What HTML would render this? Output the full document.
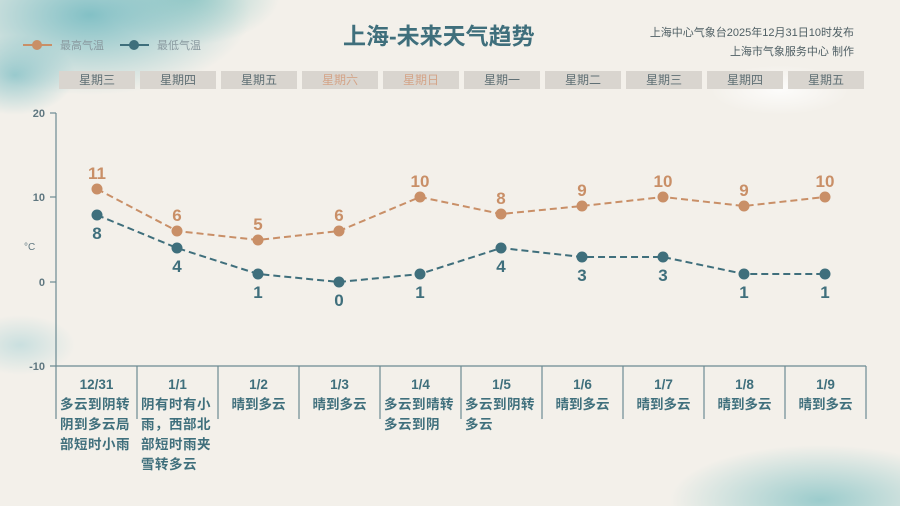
<!DOCTYPE html>
<html style="width:900px;height:506px;overflow:hidden"><head><meta charset="utf-8"><style>
html,body{margin:0;padding:0}
body{width:900px;height:506px;overflow:hidden;font-family:"Liberation Sans","Noto Sans CJK SC",sans-serif;position:relative;
background:
radial-gradient(ellipse 160px 80px at 90px 15px, rgba(111,184,191,.85), rgba(111,184,191,0)),
radial-gradient(ellipse 90px 50px at 190px -5px, rgba(140,198,194,.8), rgba(140,198,194,0)),
radial-gradient(ellipse 60px 40px at 15px 75px, rgba(121,188,195,.7), rgba(121,188,195,0)),
radial-gradient(ellipse 150px 55px at 820px 500px, rgba(134,195,197,.8), rgba(134,195,197,0)),
radial-gradient(ellipse 55px 30px at 20px 345px, rgba(184,216,218,.7), rgba(184,216,218,0)),
radial-gradient(ellipse 70px 25px at 780px 90px, rgba(255,255,255,.8), rgba(255,255,255,0)),
#f3f0ea}
.day{position:absolute;top:71px;width:76px;height:18px;background:#d9d5cf;color:#5f6f74;font-size:12px;text-align:center;line-height:18px}
.col{position:absolute;top:375px;width:81px;text-align:center;color:#3f6f7c;font-weight:bold;font-size:13.5px;line-height:20px}
.col .w{text-align:left;padding-left:4px;letter-spacing:0.5px}
svg{display:block}
</style></head><body>
<div style="position:absolute;left:343px;top:17px;font-size:23px;font-weight:bold;color:#3f6f7c">上海-未来天气趋势</div>
<div style="position:absolute;right:46px;top:24px;font-size:11px;color:#4f5f64;text-align:right;line-height:19px">上海中心气象台2025年12月31日10时发布<br>上海市气象服务中心 制作</div>
<svg style="position:absolute;left:0;top:0" width="900" height="506">
<g font-size="11" fill="#8a9aa0">
<line x1="23" y1="45" x2="52" y2="45" stroke="#c98f67" stroke-width="2"/><circle cx="37" cy="45" r="5" fill="#c98f67"/><text x="60" y="49">最高气温</text>
<line x1="120" y1="45" x2="149" y2="45" stroke="#3f6f7c" stroke-width="2"/><circle cx="134" cy="45" r="5" fill="#3f6f7c"/><text x="157" y="49">最低气温</text>
</g>
<g stroke="#6c8a92" stroke-width="1.2" fill="none">
<line x1="56" y1="113" x2="56" y2="419"/>
<line x1="50" y1="113" x2="56" y2="113"/><line x1="50" y1="197" x2="56" y2="197"/><line x1="50" y1="282" x2="56" y2="282"/>
<line x1="50" y1="366" x2="866" y2="366"/>
<line x1="137" y1="366" x2="137" y2="419"/><line x1="218" y1="366" x2="218" y2="419"/><line x1="299" y1="366" x2="299" y2="419"/><line x1="380" y1="366" x2="380" y2="419"/><line x1="461" y1="366" x2="461" y2="419"/><line x1="542" y1="366" x2="542" y2="419"/><line x1="623" y1="366" x2="623" y2="419"/><line x1="704" y1="366" x2="704" y2="419"/><line x1="785" y1="366" x2="785" y2="419"/><line x1="866" y1="366" x2="866" y2="419"/>
</g>
<g font-size="11" font-weight="bold" fill="#5f7780" text-anchor="end">
<text x="45" y="117">20</text><text x="45" y="201">10</text><text x="45" y="286">0</text><text x="45" y="370">-10</text>
</g>
<text x="24" y="250" font-size="10" fill="#5f7780">°C</text>
<polyline points="97,189 177,231 258,240 339,231 420,197 501,214 582,206 663,197 744,206 825,197" fill="none" stroke="#c98f67" stroke-width="2" stroke-dasharray="7,4"/>
<polyline points="97,215 177,248 258,274 339,282 420,274 501,248 582,257 663,257 744,274 825,274" fill="none" stroke="#3f6f7c" stroke-width="2" stroke-dasharray="7,4"/>
<g fill="#c98f67"><circle cx="97" cy="189" r="5.5"/><circle cx="177" cy="231" r="5.5"/><circle cx="258" cy="240" r="5.5"/><circle cx="339" cy="231" r="5.5"/><circle cx="420" cy="197" r="5.5"/><circle cx="501" cy="214" r="5.5"/><circle cx="582" cy="206" r="5.5"/><circle cx="663" cy="197" r="5.5"/><circle cx="744" cy="206" r="5.5"/><circle cx="825" cy="197" r="5.5"/></g>
<g fill="#3f6f7c"><circle cx="97" cy="215" r="5.5"/><circle cx="177" cy="248" r="5.5"/><circle cx="258" cy="274" r="5.5"/><circle cx="339" cy="282" r="5.5"/><circle cx="420" cy="274" r="5.5"/><circle cx="501" cy="248" r="5.5"/><circle cx="582" cy="257" r="5.5"/><circle cx="663" cy="257" r="5.5"/><circle cx="744" cy="274" r="5.5"/><circle cx="825" cy="274" r="5.5"/></g>
<g font-size="17" font-weight="bold" fill="#c98f67" text-anchor="middle">
<text x="97" y="179">11</text><text x="177" y="221">6</text><text x="258" y="230">5</text><text x="339" y="221">6</text><text x="420" y="187">10</text><text x="501" y="204">8</text><text x="582" y="196">9</text><text x="663" y="187">10</text><text x="744" y="196">9</text><text x="825" y="187">10</text>
</g>
<g font-size="17" font-weight="bold" fill="#3f6f7c" text-anchor="middle">
<text x="97" y="239">8</text><text x="177" y="272">4</text><text x="258" y="298">1</text><text x="339" y="306">0</text><text x="420" y="298">1</text><text x="501" y="272">4</text><text x="582" y="281">3</text><text x="663" y="281">3</text><text x="744" y="298">1</text><text x="825" y="298">1</text>
</g>
</svg>
<div class="day" style="left:59px">星期三</div>
<div class="day" style="left:140px">星期四</div>
<div class="day" style="left:221px">星期五</div>
<div class="day" style="left:302px;color:#d4a488">星期六</div>
<div class="day" style="left:383px;color:#d4a488">星期日</div>
<div class="day" style="left:464px">星期一</div>
<div class="day" style="left:545px">星期二</div>
<div class="day" style="left:626px">星期三</div>
<div class="day" style="left:707px">星期四</div>
<div class="day" style="left:788px">星期五</div>
<div class="col" style="left:56px">12/31<div class="w">多云到阴转阴到多云局部短时小雨</div></div>
<div class="col" style="left:137px">1/1<div class="w">阴有时有小雨，西部北部短时雨夹雪转多云</div></div>
<div class="col" style="left:218px">1/2<div>晴到多云</div></div>
<div class="col" style="left:299px">1/3<div>晴到多云</div></div>
<div class="col" style="left:380px">1/4<div class="w">多云到晴转多云到阴</div></div>
<div class="col" style="left:461px">1/5<div class="w">多云到阴转多云</div></div>
<div class="col" style="left:542px">1/6<div>晴到多云</div></div>
<div class="col" style="left:623px">1/7<div>晴到多云</div></div>
<div class="col" style="left:704px">1/8<div>晴到多云</div></div>
<div class="col" style="left:785px">1/9<div>晴到多云</div></div>
</body></html>
